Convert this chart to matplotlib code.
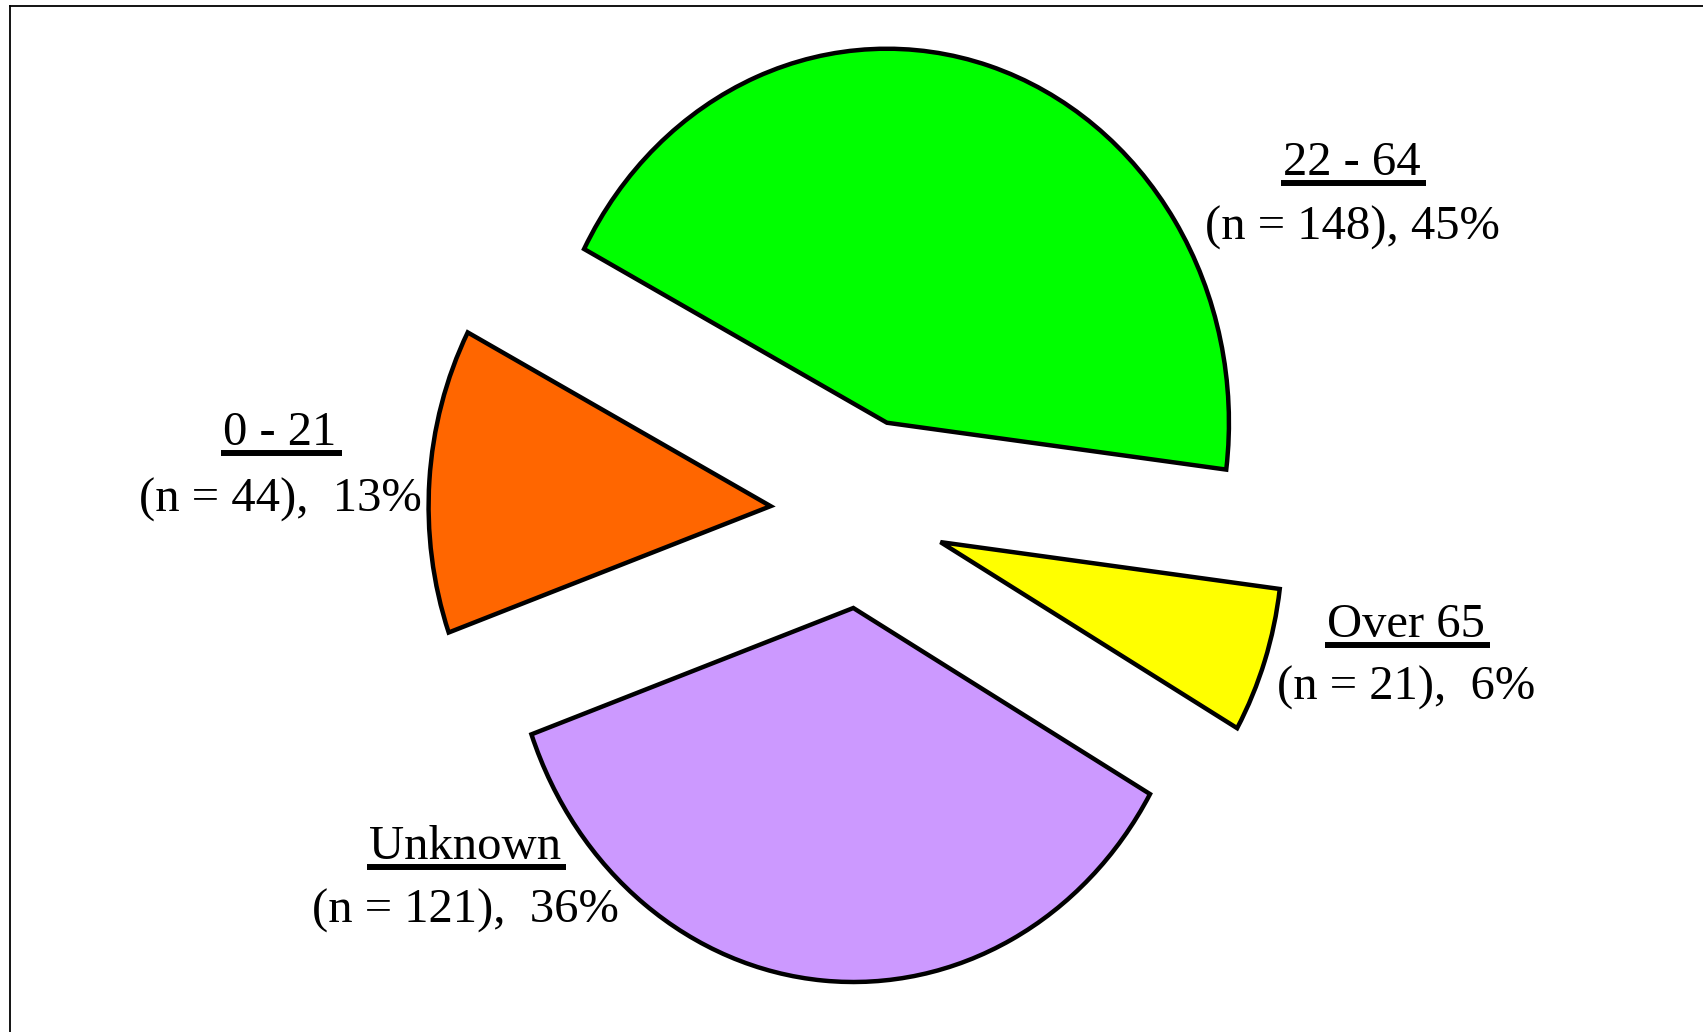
import matplotlib
matplotlib.use("Agg")
import matplotlib.pyplot as plt
from matplotlib.lines import Line2D

# ---- data ----
categories = ["22 - 64", "0 - 21", "Unknown", "Over 65"]
counts = [148, 44, 121, 21]
percent_labels = ["45%", "13%", "36%", "6%"]
colors = ["#00FF00", "#FF6600", "#CC99FF", "#FFFF00"]

W, H = 1703, 1032
fig = plt.figure(figsize=(W / 100, H / 100), dpi=100)
fig.patch.set_facecolor("white")

ax = fig.add_axes([0, 0, 1, 1])
ax.pie(counts, colors=colors, startangle=-7.2, counterclock=True,
       explode=[0.253, 0.265, 0.255, 0.245], radius=1.0,
       wedgeprops=dict(edgecolor="black", linewidth=3.2, joinstyle="miter"))
ax.set_aspect("auto")

# pixel geometry: pie centre and radii
cx, cy, rx, ry = 861.0, 513.0, 342.0, 374.0
ax.set_xlim(-cx / rx, (W - cx) / rx)
ax.set_ylim(-(H - cy) / ry, cy / ry)
ax.set_axis_off()

# frame lines (top and left only)
fig.add_artist(Line2D([9.5 / W, W / W], [1 - 6 / H, 1 - 6 / H], transform=fig.transFigure,
                      color="black", lw=1.3))
fig.add_artist(Line2D([9.5 / W, 9.5 / W], [0, 1 - 6 / H], transform=fig.transFigure,
                      color="black", lw=1.3))

font = dict(family=["Liberation Serif", "DejaVu Serif"], fontsize=35, color="black")

# label anchor positions in pixels (centre x, title baseline y, second line baseline y)
label_pos = [(1352, 175, 240), (280, 445, 512), (465, 859, 923), (1406, 637, 700)]

def px(x, y):
    return x / W, 1 - y / H

titles = []
for cat, n, pct, (x, yb1, yb2) in zip(categories, counts, percent_labels, label_pos):
    t = fig.text(*px(x, yb1), cat, ha="center", va="baseline", **font)
    sep = ", " if cat == "22 - 64" else ",  "
    fig.text(*px(x, yb2), f"(n = {n}){sep}{pct}", ha="center", va="baseline", **font)
    titles.append((t, yb1))

fig.canvas.draw()
renderer = fig.canvas.get_renderer()
for t, yb in titles:
    bb = t.get_window_extent(renderer)
    uy = yb + 8
    fig.add_artist(Line2D([(bb.x0 - 2) / W, (bb.x1 + 5) / W], [1 - uy / H, 1 - uy / H],
                          transform=fig.transFigure, color="black", lw=4.3,
                          solid_capstyle="butt"))

fig.savefig("out.png", dpi=100, facecolor="white")
